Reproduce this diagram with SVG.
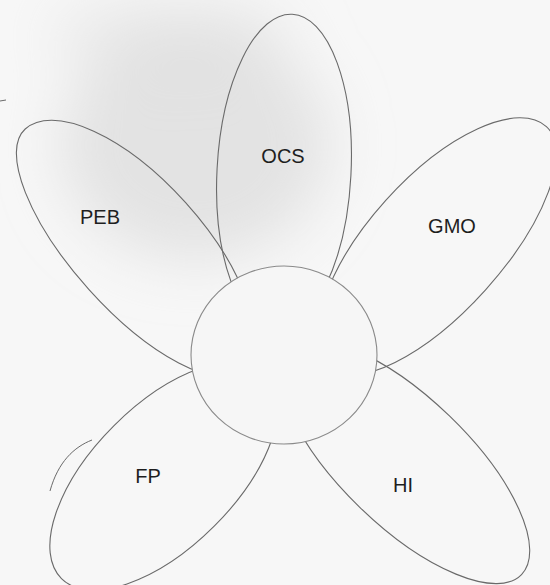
<svg xmlns="http://www.w3.org/2000/svg" width="550" height="585" viewBox="0 0 550 585">
  <defs>
    <filter id="smudge" x="-50%" y="-50%" width="200%" height="200%">
      <feGaussianBlur stdDeviation="30"/>
    </filter>
    <style>
      .petal { fill: none; stroke: #6a6a6a; stroke-width: 1.1; }
      .core { fill: #f6f6f6; stroke: #8a8a8a; stroke-width: 1.1; }
      .label { font-family: "Liberation Sans", Arial, sans-serif; font-size: 20px; fill: #1e1e1e; text-anchor: middle; }
      .mark { fill: none; stroke: #6a6a6a; stroke-width: 1; }
    </style>
  </defs>
  <rect x="0" y="0" width="550" height="585" fill="#f7f7f7"/>
  <!-- scan smudge -->
  <g id="background" filter="url(#smudge)">
    <ellipse cx="195" cy="145" rx="135" ry="115" fill="#d6d6d6" opacity="0.6"/>
    <ellipse cx="170" cy="35" rx="120" ry="35" fill="#dcdcdc" opacity="0.5"/>
  </g>
  <g id="petal-ocs">
    <ellipse class="petal" cx="284" cy="172" rx="67" ry="158" transform="rotate(3 284 172)"/>
    <text class="label" x="283" y="163">OCS</text>
  </g>
  <g id="petal-peb">
    <path class="petal" d="M25.2,129 A162,70 48 0 1 242,369.8 A162,60 48 0 1 25.2,129 Z"/>
    <text class="label" x="100" y="224">PEB</text>
  </g>
  <g id="petal-gmo">
    <path class="petal" d="M329.6,367.4 A162,70 -48 0 1 546.4,126.6 A162,64 -48 0 1 329.6,367.4 Z"/>
    <text class="label" x="452" y="233">GMO</text>
  </g>
  <g id="petal-fp">
    <ellipse class="petal" cx="164" cy="476" rx="145" ry="71" transform="rotate(-45 164 476)"/>
    <text class="label" x="148" y="483">FP</text>
  </g>
  <g id="petal-hi">
    <ellipse class="petal" cx="405" cy="462" rx="162" ry="64" transform="rotate(44 405 462)"/>
    <text class="label" x="403" y="492">HI</text>
  </g>
  <g id="center">
    <ellipse class="core" cx="284" cy="355" rx="93" ry="89"/>
  </g>
  <g id="connectors">
    <path class="mark" d="M92,440 C74,447 58,462 50,491"/>
    <path class="mark" d="M0,101 L6,100"/>
  </g>
</svg>
